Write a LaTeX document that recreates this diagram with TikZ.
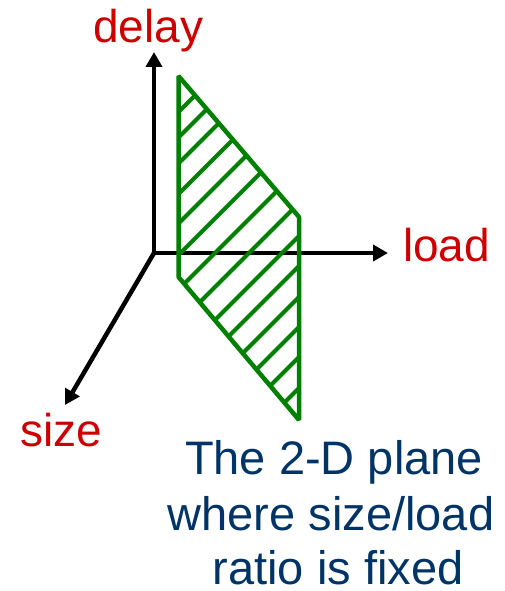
\documentclass[tikz,border=0pt]{standalone}
\usepackage{fontspec}
\setmainfont{Liberation Sans}
\usetikzlibrary{arrows.meta}
\definecolor{axred}{RGB}{204,0,0}
\definecolor{planegreen}{RGB}{0,128,0}
\definecolor{noteblue}{RGB}{0,51,102}
\begin{document}
\begin{tikzpicture}[x=1pt,y=-1pt,
  axis/.style={line width=4.5pt, line cap=round, -{Triangle[length=15pt,width=16pt]}},
  axlab/.style={text=axred, font=\fontsize{46}{46}\selectfont, inner sep=0pt, anchor=base west},
  note/.style={text=noteblue, font=\fontsize{47}{47}\selectfont, inner sep=0pt, anchor=base},
  planeedge/.style={draw=planegreen, line width=4.5pt, line join=bevel},
  hatch/.style={draw=planegreen, line width=4.2pt}]
\useasboundingbox (0,0) rectangle (504,591);
% axes
\coordinate (O) at (154,253);
\coordinate (D) at (154,52);
\coordinate (L) at (388,253);
\coordinate (S) at (65,405);
\draw[axis] (O) -- (D);
\draw[axis] (O) -- (L);
\draw[axis] (O) -- (S);
% plane
\coordinate (P1) at (178.5,76);
\coordinate (P2) at (178.5,277);
\coordinate (P3) at (299,420);
\coordinate (P4) at (299,217);
\begin{scope}
  \clip (P1) -- (P2) -- (P3) -- (P4) -- cycle;
  \foreach \c in {290.5,316,342,372.5,402,433.5,468,502,535,565,596,626,656,687}
    \draw[hatch] (150,\c-150) -- (330,\c-330);
\end{scope}
\draw[planeedge] (P1) -- (P2) -- (P3) -- (P4) -- cycle;
% labels
\node[axlab] (delay) at (93,42.7) {delay};
\node[axlab] (load) at (403,261.7) {load};
\node[axlab] (size) at (20.5,446.7) {size};
\node[note] (n1) at (334,474) {The 2-D plane};
\node[note] (n2) at (331,530) {where size/load};
\node[note] (n3) at (338,584) {ratio is fixed};
\end{tikzpicture}
\end{document}
